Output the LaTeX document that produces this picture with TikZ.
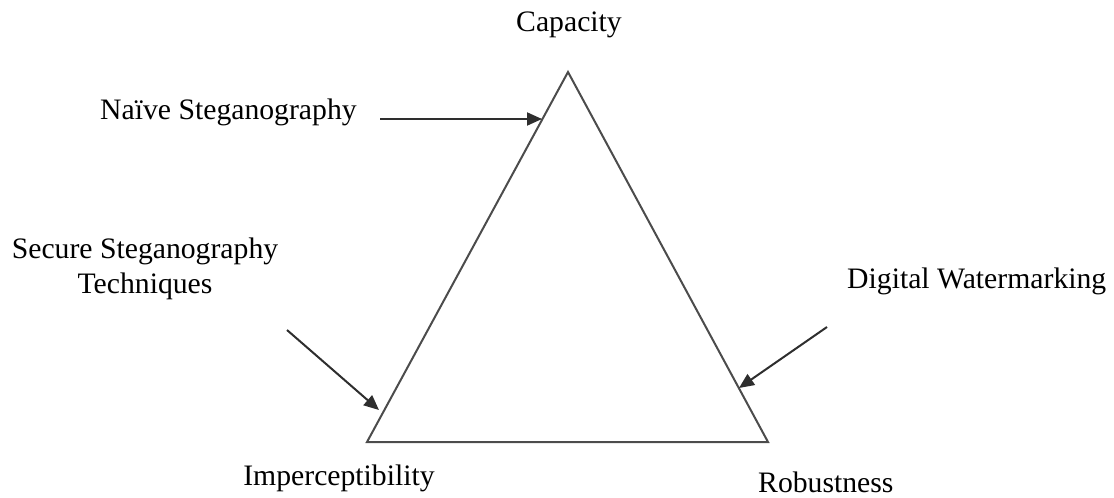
\documentclass[tikz,border=0pt]{standalone}
\usepackage{fontspec}
\setmainfont{Liberation Serif}
\usetikzlibrary{arrows.meta}
\begin{document}
\begin{tikzpicture}[x=1pt,y=-1pt,
  lbl/.style={inner sep=0pt, font=\fontsize{29.7}{35}\selectfont, text=black},
  tri/.style={draw=black!70, line width=2pt, line join=miter},
  arr/.style={draw=black!82, line width=2pt, -{Triangle[length=15pt,width=13pt]}}]
\useasboundingbox (0,0) rectangle (1114,498);
% triangle vertices
\coordinate (A) at (568,72);
\coordinate (B) at (367,442);
\coordinate (C) at (768,442);
\draw[tri] (A) -- (B) -- (C) -- cycle;
% labels
\node[lbl, anchor=base] (cap) at (569,31) {Capacity};
\node[lbl, anchor=base west] (naive) at (100,119) {Naïve Steganography};
\node[lbl, anchor=base] (secure1) at (145,258) {Secure Steganography};
\node[lbl, anchor=base] (secure2) at (145,293) {Techniques};
\node[lbl, anchor=base west] (digital) at (847,288) {Digital Watermarking};
\node[lbl, anchor=base] (imp) at (339,485) {Imperceptibility};
\node[lbl, anchor=base west] (rob) at (758,492) {Robustness};
% arrows
\coordinate (n0) at (380,119);
\coordinate (n1) at (542,119);
\coordinate (s0) at (287,330);
\coordinate (s1) at (379,410);
\coordinate (d0) at (827,327);
\coordinate (d1) at (739,388);
\draw[arr] (n0) -- (n1);
\draw[arr] (s0) -- (s1);
\draw[arr] (d0) -- (d1);
\end{tikzpicture}
\end{document}
